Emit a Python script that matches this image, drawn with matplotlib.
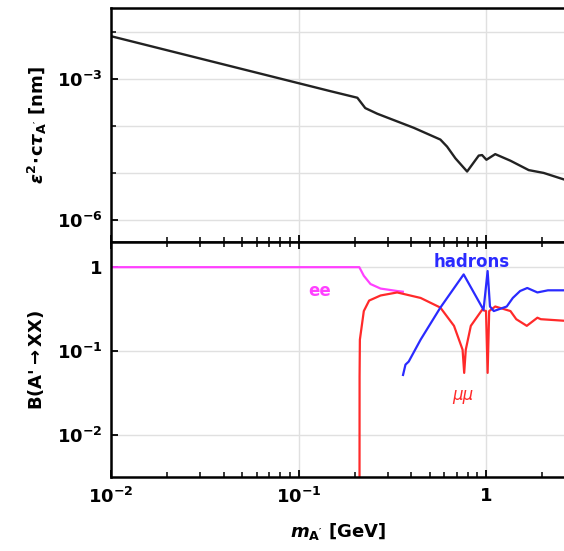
import matplotlib
matplotlib.use("Agg")
import matplotlib.pyplot as plt
from matplotlib.ticker import FixedLocator, FixedFormatter, NullFormatter

plt.rcParams['font.family'] = ['DejaVu Sans']
plt.rcParams['font.weight'] = 'bold'
plt.rcParams['mathtext.fontset'] = 'custom'
plt.rcParams['mathtext.rm'] = 'DejaVu Sans:bold'
plt.rcParams['mathtext.bf'] = 'DejaVu Sans:bold'
plt.rcParams['mathtext.it'] = 'DejaVu Sans:italic:bold'
plt.rcParams['mathtext.default'] = 'bf'

# lifetime curve (top panel)
m_tau = [0.01, 0.148, 0.206, 0.227, 0.263, 0.412, 0.571, 0.62, 0.687, 0.793,
         0.915, 0.953, 1.005, 1.12, 1.35, 1.69, 2.03, 2.61]
log_ctau = [-2.09, -3.26, -3.40, -3.62, -3.74, -4.04, -4.29, -4.44, -4.69, -4.97,
            -4.63, -4.62, -4.72, -4.60, -4.74, -4.94, -5.00, -5.14]
ctau = [10 ** v for v in log_ctau]

# branching ratios (bottom panel)
m_ee = [0.01, 0.211, 0.223, 0.242, 0.274, 0.336, 0.36]
br_ee = [1.0, 1.0, 0.79, 0.63, 0.556, 0.52, 0.51]

m_mumu = [0.2115, 0.2117, 0.2125, 0.223, 0.238, 0.274, 0.336, 0.448, 0.571, 0.675,
          0.75, 0.765, 0.78, 0.83, 0.953, 1.0, 1.02, 1.04, 1.12, 1.35, 1.45,
          1.65, 1.88, 1.96, 2.61]
br_mumu = [0.001, 0.05, 0.137, 0.30, 0.40, 0.46, 0.50, 0.43, 0.33, 0.20,
           0.104, 0.055, 0.104, 0.20, 0.31, 0.30, 0.055, 0.30, 0.34, 0.30, 0.24,
           0.20, 0.25, 0.24, 0.23]

m_had = [0.361, 0.372, 0.387, 0.448, 0.571, 0.76, 0.97, 1.02, 1.05, 1.10,
         1.29, 1.39, 1.52, 1.66, 1.88, 2.14, 2.61]
br_had = [0.052, 0.069, 0.075, 0.137, 0.33, 0.82, 0.31, 0.90, 0.34, 0.30,
          0.34, 0.43, 0.52, 0.565, 0.50, 0.53, 0.53]

xlim = (0.01, 2.606)

fig = plt.figure(figsize=(5.64, 5.51), dpi=100)
ax1 = fig.add_axes([111 / 564, 1 - 242 / 551, 453 / 564, 234 / 551])
ax2 = fig.add_axes([111 / 564, 1 - 477 / 551, 453 / 564, 235 / 551])

for ax in (ax1, ax2):
    ax.set_xscale('log')
    ax.set_yscale('log')
    ax.set_xlim(*xlim)
    ax.spines['right'].set_visible(False)
    for s in ('left', 'top', 'bottom'):
        ax.spines[s].set_linewidth(1.8)
    ax.xaxis.set_major_locator(FixedLocator([0.01, 0.1, 1]))
    ax.xaxis.set_minor_locator(FixedLocator([k * 10 ** e for e in (-2, -1, 0) for k in range(2, 10)]))
    ax.xaxis.set_minor_formatter(NullFormatter())
    ax.tick_params(which='both', direction='in', top=True, right=False, labelsize=13)
    ax.tick_params(axis='y', pad=6)
    ax.tick_params(which='major', length=5, width=1.3)
    ax.tick_params(which='minor', length=3.5, width=1.1)
    ax.xaxis.grid(True, which='major', color='#e0e0e0', lw=1)
    ax.yaxis.grid(True, which='both', color='#e0e0e0', lw=1)
    ax.set_axisbelow(True)

# top panel
ax1.plot(m_tau, ctau, color='#222222', lw=1.7)
ax1.set_ylim(10 ** -6.47, 10 ** -1.49)
ax1.yaxis.set_major_locator(FixedLocator([1e-3, 1e-6]))
ax1.yaxis.set_major_formatter(FixedFormatter([r'$10^{-3}$', r'$10^{-6}$']))
ax1.yaxis.set_minor_locator(FixedLocator([1e-2, 1e-4, 1e-5]))
ax1.yaxis.set_minor_formatter(NullFormatter())
ax1.tick_params(axis='x', which='both', top=False, labelbottom=False)
ax1.set_ylabel(r'$\mathit{\epsilon}^2\!\cdot\!c\mathit{\tau}_{A^{\prime}}$ [nm]', fontsize=13,
               fontweight='bold', labelpad=6)

# bottom panel
ax2.plot(m_ee, br_ee, color='#ff40ff', lw=1.6)
ax2.plot(m_mumu, br_mumu, color='#ff2a2a', lw=1.6)
ax2.plot(m_had, br_had, color='#2a2aff', lw=1.6)
ax2.set_ylim(10 ** -2.5, 10 ** 0.30)
ax2.yaxis.set_major_locator(FixedLocator([1e-2, 1e-1, 1]))
ax2.yaxis.set_major_formatter(FixedFormatter([r'$10^{-2}$', r'$10^{-1}$', '1']))
ax2.yaxis.set_minor_locator(FixedLocator([]))
ax2.xaxis.set_major_formatter(FixedFormatter([r'$10^{-2}$', r'$10^{-1}$', '1']))
ax2.tick_params(axis='x', pad=7)
ax2.set_ylabel(r"B(A'$\rightarrow$XX)", fontsize=13, fontweight='bold', labelpad=8)
ax2.set_xlabel(r"$\mathit{m}_{A'}$ [GeV]", fontsize=13, fontweight='bold', labelpad=10)

ax2.text(0.129, 0.52, 'ee', color='#ff40ff', fontsize=12, fontweight='bold',
         ha='center', va='center')
ax2.text(0.84, 1.15, 'hadrons', color='#2a2aff', fontsize=12, fontweight='bold',
         ha='center', va='center')
ax2.text(0.75, 0.030, 'μμ', color='#ff2a2a', fontsize=12, fontweight='normal',
         style='italic', ha='center', va='center')

fig.savefig('out.png', dpi=100)
